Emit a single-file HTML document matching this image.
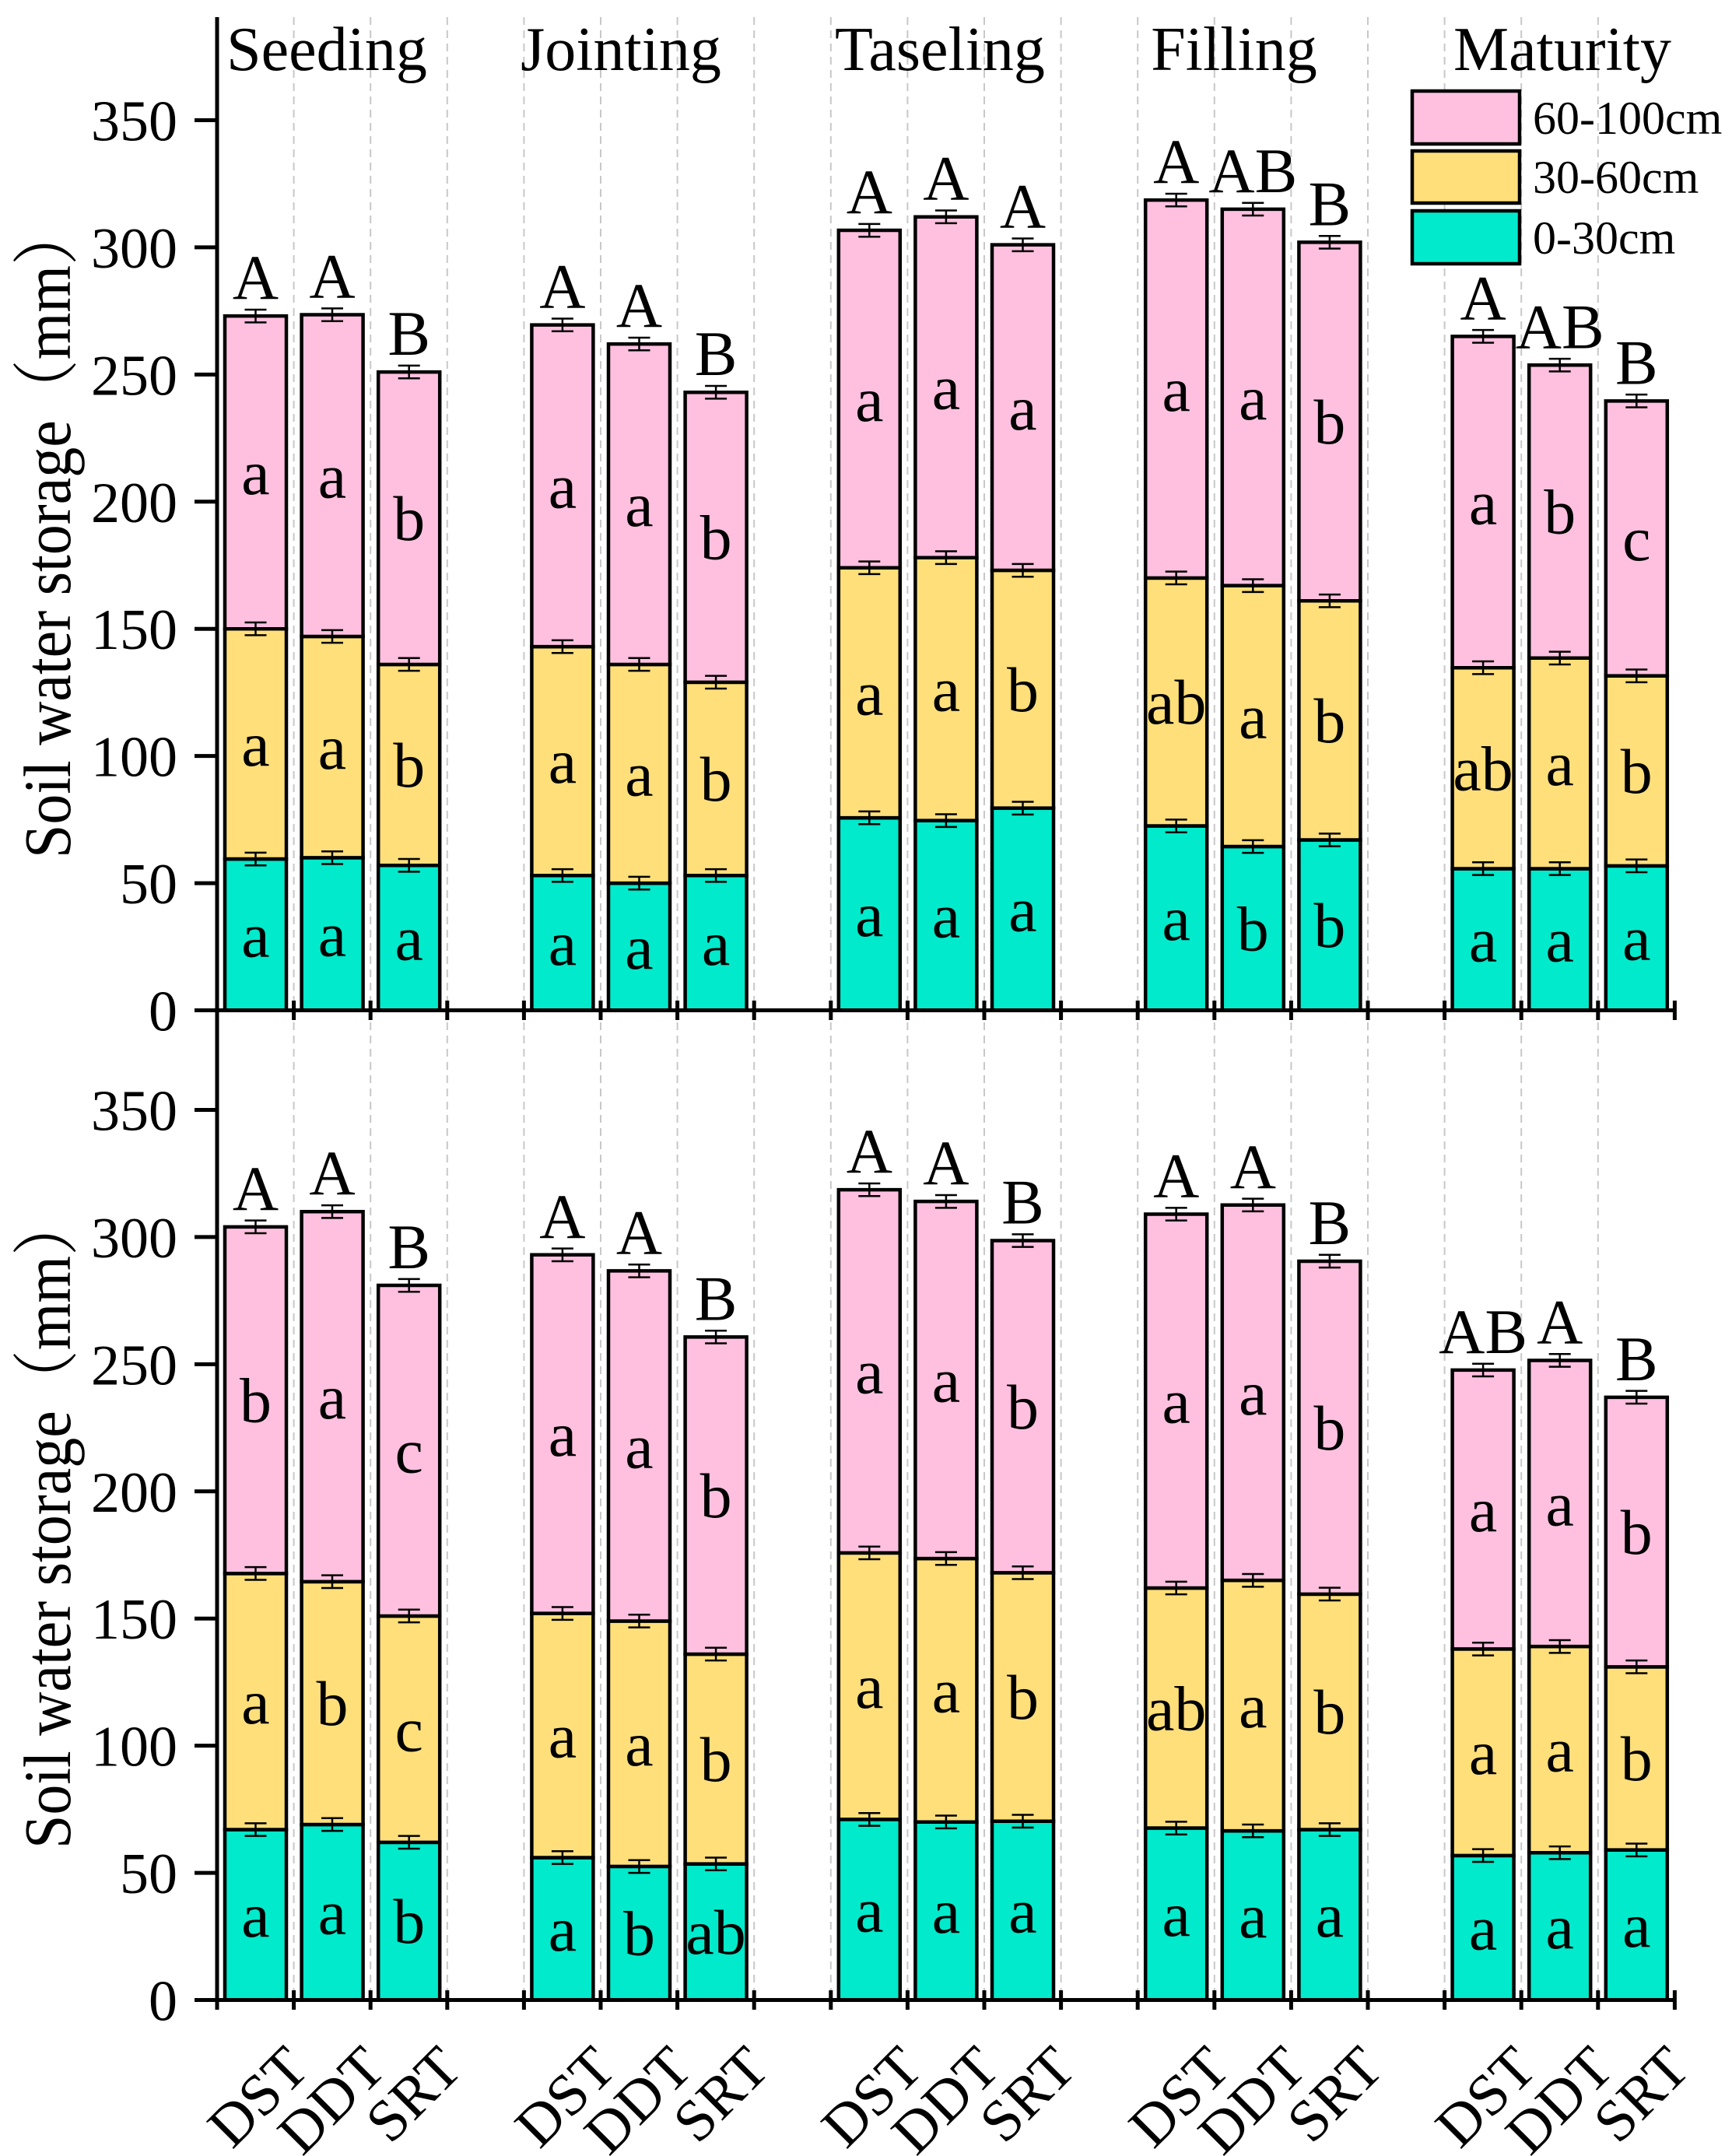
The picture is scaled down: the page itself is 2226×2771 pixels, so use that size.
<!DOCTYPE html>
<html><head><meta charset="utf-8"><style>
html,body{margin:0;padding:0;background:#fff}
svg{display:block}
text{font-family:"Liberation Serif","Noto Serif CJK SC",serif;fill:#000}
.t{fill:#00EACB}.y{fill:#FFDF7A}.p{fill:#FFC0E0}
rect{stroke:#000;stroke-width:4.5;vector-effect:non-scaling-stroke}
.eb{fill:none;stroke:#000;stroke-width:2.5;vector-effect:non-scaling-stroke}
.l{font-size:82px;text-anchor:middle}
</style></head><body>
<svg width="2226" height="2771" viewBox="0 0 2226 2771" xmlns="http://www.w3.org/2000/svg">
<defs><path id="e" class="eb" d="M-14 -2.5h28M-14 2.5h28M0 -2.5V2.5"/></defs>
<g stroke="#c8c8c8" stroke-width="2" stroke-dasharray="10 7">
<path d="M377.6 22V2571M476.2 22V2571M574.8 22V2571M673.4 22V2571M772 22V2571M870.6 22V2571M969.2 22V2571M1067.8 22V2571M1166.4 22V2571M1265 22V2571M1363.6 22V2571M1462.2 22V2571M1560.8 22V2571M1659.4 22V2571M1758 22V2571M1856.6 22V2571M1955.2 22V2571M2053.8 22V2571"/>
</g>

<g transform="translate(0,1298.5) scale(1,-3.2686)">
<rect class="t" x="289" y="0" width="79" height="59.5"/><rect class="y" x="289" y="59.5" width="79" height="90.5"/><rect class="p" x="289" y="150" width="79" height="123"/>
<rect class="t" x="387.6" y="0" width="79" height="60"/><rect class="y" x="387.6" y="60" width="79" height="87"/><rect class="p" x="387.6" y="147" width="79" height="126.5"/>
<rect class="t" x="486.2" y="0" width="79" height="57"/><rect class="y" x="486.2" y="57" width="79" height="79"/><rect class="p" x="486.2" y="136" width="79" height="115"/>
<rect class="t" x="683.4" y="0" width="79" height="53"/><rect class="y" x="683.4" y="53" width="79" height="90"/><rect class="p" x="683.4" y="143" width="79" height="126.5"/>
<rect class="t" x="782" y="0" width="79" height="50"/><rect class="y" x="782" y="50" width="79" height="86"/><rect class="p" x="782" y="136" width="79" height="126"/>
<rect class="t" x="880.6" y="0" width="79" height="53"/><rect class="y" x="880.6" y="53" width="79" height="76"/><rect class="p" x="880.6" y="129" width="79" height="114"/>
<rect class="t" x="1077.8" y="0" width="79" height="75.7"/><rect class="y" x="1077.8" y="75.7" width="79" height="98.3"/><rect class="p" x="1077.8" y="174" width="79" height="132.7"/>
<rect class="t" x="1176.4" y="0" width="79" height="74.6"/><rect class="y" x="1176.4" y="74.6" width="79" height="103.4"/><rect class="p" x="1176.4" y="178" width="79" height="134"/>
<rect class="t" x="1275" y="0" width="79" height="79.5"/><rect class="y" x="1275" y="79.5" width="79" height="93.5"/><rect class="p" x="1275" y="173" width="79" height="128"/>
<rect class="t" x="1472.2" y="0" width="79" height="72.5"/><rect class="y" x="1472.2" y="72.5" width="79" height="97.5"/><rect class="p" x="1472.2" y="170" width="79" height="148.6"/>
<rect class="t" x="1570.8" y="0" width="79" height="64.4"/><rect class="y" x="1570.8" y="64.4" width="79" height="102.6"/><rect class="p" x="1570.8" y="167" width="79" height="148"/>
<rect class="t" x="1669.4" y="0" width="79" height="67"/><rect class="y" x="1669.4" y="67" width="79" height="94"/><rect class="p" x="1669.4" y="161" width="79" height="141"/>
<rect class="t" x="1866.6" y="0" width="79" height="55.7"/><rect class="y" x="1866.6" y="55.7" width="79" height="79"/><rect class="p" x="1866.6" y="134.7" width="79" height="130.3"/>
<rect class="t" x="1965.2" y="0" width="79" height="55.7"/><rect class="y" x="1965.2" y="55.7" width="79" height="82.8"/><rect class="p" x="1965.2" y="138.5" width="79" height="115.2"/>
<rect class="t" x="2063.8" y="0" width="79" height="56.8"/><rect class="y" x="2063.8" y="56.8" width="79" height="74.7"/><rect class="p" x="2063.8" y="131.5" width="79" height="108.1"/>
<use href="#e" x="328.5" y="59.5"/><use href="#e" x="328.5" y="150"/><use href="#e" x="328.5" y="273"/>
<use href="#e" x="427" y="60"/><use href="#e" x="427" y="147"/><use href="#e" x="427" y="273.5"/>
<use href="#e" x="525.7" y="57"/><use href="#e" x="525.7" y="136"/><use href="#e" x="525.7" y="251"/>
<use href="#e" x="722.9" y="53"/><use href="#e" x="722.9" y="143"/><use href="#e" x="722.9" y="269.5"/>
<use href="#e" x="821.5" y="50"/><use href="#e" x="821.5" y="136"/><use href="#e" x="821.5" y="262"/>
<use href="#e" x="920.1" y="53"/><use href="#e" x="920.1" y="129"/><use href="#e" x="920.1" y="243"/>
<use href="#e" x="1117.3" y="75.7"/><use href="#e" x="1117.3" y="174"/><use href="#e" x="1117.3" y="306.7"/>
<use href="#e" x="1215.9" y="74.6"/><use href="#e" x="1215.9" y="178"/><use href="#e" x="1215.9" y="312"/>
<use href="#e" x="1314.5" y="79.5"/><use href="#e" x="1314.5" y="173"/><use href="#e" x="1314.5" y="301"/>
<use href="#e" x="1511.7" y="72.5"/><use href="#e" x="1511.7" y="170"/><use href="#e" x="1511.7" y="318.6"/>
<use href="#e" x="1610.3" y="64.4"/><use href="#e" x="1610.3" y="167"/><use href="#e" x="1610.3" y="315"/>
<use href="#e" x="1708.9" y="67"/><use href="#e" x="1708.9" y="161"/><use href="#e" x="1708.9" y="302"/>
<use href="#e" x="1906.1" y="55.7"/><use href="#e" x="1906.1" y="134.7"/><use href="#e" x="1906.1" y="265"/>
<use href="#e" x="2004.7" y="55.7"/><use href="#e" x="2004.7" y="138.5"/><use href="#e" x="2004.7" y="253.7"/>
<use href="#e" x="2103.3" y="56.8"/><use href="#e" x="2103.3" y="131.5"/><use href="#e" x="2103.3" y="239.6"/>
<g class="l">
<text transform="translate(328.5,29.75) scale(1,-0.30594)" y="28">a</text><text transform="translate(328.5,104.75) scale(1,-0.30594)" y="28">a</text><text transform="translate(328.5,211.5) scale(1,-0.30594)" y="28">a</text><text transform="translate(328.5,273) scale(1,-0.30594)" y="-22">A</text>
<text transform="translate(427,30) scale(1,-0.30594)" y="28">a</text><text transform="translate(427,103.5) scale(1,-0.30594)" y="28">a</text><text transform="translate(427,210.25) scale(1,-0.30594)" y="28">a</text><text transform="translate(427,273.5) scale(1,-0.30594)" y="-22">A</text>
<text transform="translate(525.7,28.5) scale(1,-0.30594)" y="28">a</text><text transform="translate(525.7,96.5) scale(1,-0.30594)" y="28">b</text><text transform="translate(525.7,193.5) scale(1,-0.30594)" y="28">b</text><text transform="translate(525.7,251) scale(1,-0.30594)" y="-22">B</text>
<text transform="translate(722.9,26.5) scale(1,-0.30594)" y="28">a</text><text transform="translate(722.9,98) scale(1,-0.30594)" y="28">a</text><text transform="translate(722.9,206.25) scale(1,-0.30594)" y="28">a</text><text transform="translate(722.9,269.5) scale(1,-0.30594)" y="-22">A</text>
<text transform="translate(821.5,25) scale(1,-0.30594)" y="28">a</text><text transform="translate(821.5,93) scale(1,-0.30594)" y="28">a</text><text transform="translate(821.5,199) scale(1,-0.30594)" y="28">a</text><text transform="translate(821.5,262) scale(1,-0.30594)" y="-22">A</text>
<text transform="translate(920.1,26.5) scale(1,-0.30594)" y="28">a</text><text transform="translate(920.1,91) scale(1,-0.30594)" y="28">b</text><text transform="translate(920.1,186) scale(1,-0.30594)" y="28">b</text><text transform="translate(920.1,243) scale(1,-0.30594)" y="-22">B</text>
<text transform="translate(1117.3,37.85) scale(1,-0.30594)" y="28">a</text><text transform="translate(1117.3,124.85) scale(1,-0.30594)" y="28">a</text><text transform="translate(1117.3,240.35) scale(1,-0.30594)" y="28">a</text><text transform="translate(1117.3,306.7) scale(1,-0.30594)" y="-22">A</text>
<text transform="translate(1215.9,37.3) scale(1,-0.30594)" y="28">a</text><text transform="translate(1215.9,126.3) scale(1,-0.30594)" y="28">a</text><text transform="translate(1215.9,245) scale(1,-0.30594)" y="28">a</text><text transform="translate(1215.9,312) scale(1,-0.30594)" y="-22">A</text>
<text transform="translate(1314.5,39.75) scale(1,-0.30594)" y="28">a</text><text transform="translate(1314.5,126.25) scale(1,-0.30594)" y="28">b</text><text transform="translate(1314.5,237) scale(1,-0.30594)" y="28">a</text><text transform="translate(1314.5,301) scale(1,-0.30594)" y="-22">A</text>
<text transform="translate(1511.7,36.25) scale(1,-0.30594)" y="28">a</text><text transform="translate(1511.7,121.25) scale(1,-0.30594)" y="28">ab</text><text transform="translate(1511.7,244.3) scale(1,-0.30594)" y="28">a</text><text transform="translate(1511.7,318.6) scale(1,-0.30594)" y="-22">A</text>
<text transform="translate(1610.3,32.2) scale(1,-0.30594)" y="28">b</text><text transform="translate(1610.3,115.7) scale(1,-0.30594)" y="28">a</text><text transform="translate(1610.3,241) scale(1,-0.30594)" y="28">a</text><text transform="translate(1610.3,315) scale(1,-0.30594)" y="-22">AB</text>
<text transform="translate(1708.9,33.5) scale(1,-0.30594)" y="28">b</text><text transform="translate(1708.9,114) scale(1,-0.30594)" y="28">b</text><text transform="translate(1708.9,231.5) scale(1,-0.30594)" y="28">b</text><text transform="translate(1708.9,302) scale(1,-0.30594)" y="-22">B</text>
<text transform="translate(1906.1,27.85) scale(1,-0.30594)" y="28">a</text><text transform="translate(1906.1,95.2) scale(1,-0.30594)" y="28">ab</text><text transform="translate(1906.1,199.85) scale(1,-0.30594)" y="28">a</text><text transform="translate(1906.1,265) scale(1,-0.30594)" y="-22">A</text>
<text transform="translate(2004.7,27.85) scale(1,-0.30594)" y="28">a</text><text transform="translate(2004.7,97.1) scale(1,-0.30594)" y="28">a</text><text transform="translate(2004.7,196.1) scale(1,-0.30594)" y="28">b</text><text transform="translate(2004.7,253.7) scale(1,-0.30594)" y="-22">AB</text>
<text transform="translate(2103.3,28.4) scale(1,-0.30594)" y="28">a</text><text transform="translate(2103.3,94.15) scale(1,-0.30594)" y="28">b</text><text transform="translate(2103.3,185.55) scale(1,-0.30594)" y="28">c</text><text transform="translate(2103.3,239.6) scale(1,-0.30594)" y="-22">B</text>
</g>
</g>

<g transform="translate(0,2570.5) scale(1,-3.2686)">
<rect class="t" x="289" y="0" width="79" height="67"/><rect class="y" x="289" y="67" width="79" height="100.7"/><rect class="p" x="289" y="167.7" width="79" height="136.3"/>
<rect class="t" x="387.6" y="0" width="79" height="69"/><rect class="y" x="387.6" y="69" width="79" height="95.5"/><rect class="p" x="387.6" y="164.5" width="79" height="145.5"/>
<rect class="t" x="486.2" y="0" width="79" height="62"/><rect class="y" x="486.2" y="62" width="79" height="89"/><rect class="p" x="486.2" y="151" width="79" height="130"/>
<rect class="t" x="683.4" y="0" width="79" height="56"/><rect class="y" x="683.4" y="56" width="79" height="96"/><rect class="p" x="683.4" y="152" width="79" height="141"/>
<rect class="t" x="782" y="0" width="79" height="52.5"/><rect class="y" x="782" y="52.5" width="79" height="96.5"/><rect class="p" x="782" y="149" width="79" height="137.7"/>
<rect class="t" x="880.6" y="0" width="79" height="53.5"/><rect class="y" x="880.6" y="53.5" width="79" height="82.5"/><rect class="p" x="880.6" y="136" width="79" height="124.7"/>
<rect class="t" x="1077.8" y="0" width="79" height="71"/><rect class="y" x="1077.8" y="71" width="79" height="104.8"/><rect class="p" x="1077.8" y="175.8" width="79" height="142.8"/>
<rect class="t" x="1176.4" y="0" width="79" height="70"/><rect class="y" x="1176.4" y="70" width="79" height="103.6"/><rect class="p" x="1176.4" y="173.6" width="79" height="140.4"/>
<rect class="t" x="1275" y="0" width="79" height="70.3"/><rect class="y" x="1275" y="70.3" width="79" height="97.7"/><rect class="p" x="1275" y="168" width="79" height="130.6"/>
<rect class="t" x="1472.2" y="0" width="79" height="67.6"/><rect class="y" x="1472.2" y="67.6" width="79" height="94.4"/><rect class="p" x="1472.2" y="162" width="79" height="147"/>
<rect class="t" x="1570.8" y="0" width="79" height="66.5"/><rect class="y" x="1570.8" y="66.5" width="79" height="98.5"/><rect class="p" x="1570.8" y="165" width="79" height="147.6"/>
<rect class="t" x="1669.4" y="0" width="79" height="67"/><rect class="y" x="1669.4" y="67" width="79" height="92.6"/><rect class="p" x="1669.4" y="159.6" width="79" height="130.9"/>
<rect class="t" x="1866.6" y="0" width="79" height="56.8"/><rect class="y" x="1866.6" y="56.8" width="79" height="81.2"/><rect class="p" x="1866.6" y="138" width="79" height="109.7"/>
<rect class="t" x="1965.2" y="0" width="79" height="57.9"/><rect class="y" x="1965.2" y="57.9" width="79" height="81.1"/><rect class="p" x="1965.2" y="139" width="79" height="112.5"/>
<rect class="t" x="2063.8" y="0" width="79" height="59"/><rect class="y" x="2063.8" y="59" width="79" height="72"/><rect class="p" x="2063.8" y="131" width="79" height="106"/>
<use href="#e" x="328.5" y="67"/><use href="#e" x="328.5" y="167.7"/><use href="#e" x="328.5" y="304"/>
<use href="#e" x="427" y="69"/><use href="#e" x="427" y="164.5"/><use href="#e" x="427" y="310"/>
<use href="#e" x="525.7" y="62"/><use href="#e" x="525.7" y="151"/><use href="#e" x="525.7" y="281"/>
<use href="#e" x="722.9" y="56"/><use href="#e" x="722.9" y="152"/><use href="#e" x="722.9" y="293"/>
<use href="#e" x="821.5" y="52.5"/><use href="#e" x="821.5" y="149"/><use href="#e" x="821.5" y="286.7"/>
<use href="#e" x="920.1" y="53.5"/><use href="#e" x="920.1" y="136"/><use href="#e" x="920.1" y="260.7"/>
<use href="#e" x="1117.3" y="71"/><use href="#e" x="1117.3" y="175.8"/><use href="#e" x="1117.3" y="318.6"/>
<use href="#e" x="1215.9" y="70"/><use href="#e" x="1215.9" y="173.6"/><use href="#e" x="1215.9" y="314"/>
<use href="#e" x="1314.5" y="70.3"/><use href="#e" x="1314.5" y="168"/><use href="#e" x="1314.5" y="298.6"/>
<use href="#e" x="1511.7" y="67.6"/><use href="#e" x="1511.7" y="162"/><use href="#e" x="1511.7" y="309"/>
<use href="#e" x="1610.3" y="66.5"/><use href="#e" x="1610.3" y="165"/><use href="#e" x="1610.3" y="312.6"/>
<use href="#e" x="1708.9" y="67"/><use href="#e" x="1708.9" y="159.6"/><use href="#e" x="1708.9" y="290.5"/>
<use href="#e" x="1906.1" y="56.8"/><use href="#e" x="1906.1" y="138"/><use href="#e" x="1906.1" y="247.7"/>
<use href="#e" x="2004.7" y="57.9"/><use href="#e" x="2004.7" y="139"/><use href="#e" x="2004.7" y="251.5"/>
<use href="#e" x="2103.3" y="59"/><use href="#e" x="2103.3" y="131"/><use href="#e" x="2103.3" y="237"/>
<g class="l">
<text transform="translate(328.5,33.5) scale(1,-0.30594)" y="28">a</text><text transform="translate(328.5,117.35) scale(1,-0.30594)" y="28">a</text><text transform="translate(328.5,235.85) scale(1,-0.30594)" y="28">b</text><text transform="translate(328.5,304) scale(1,-0.30594)" y="-22">A</text>
<text transform="translate(427,34.5) scale(1,-0.30594)" y="28">a</text><text transform="translate(427,116.75) scale(1,-0.30594)" y="28">b</text><text transform="translate(427,237.25) scale(1,-0.30594)" y="28">a</text><text transform="translate(427,310) scale(1,-0.30594)" y="-22">A</text>
<text transform="translate(525.7,31) scale(1,-0.30594)" y="28">b</text><text transform="translate(525.7,106.5) scale(1,-0.30594)" y="28">c</text><text transform="translate(525.7,216) scale(1,-0.30594)" y="28">c</text><text transform="translate(525.7,281) scale(1,-0.30594)" y="-22">B</text>
<text transform="translate(722.9,28) scale(1,-0.30594)" y="28">a</text><text transform="translate(722.9,104) scale(1,-0.30594)" y="28">a</text><text transform="translate(722.9,222.5) scale(1,-0.30594)" y="28">a</text><text transform="translate(722.9,293) scale(1,-0.30594)" y="-22">A</text>
<text transform="translate(821.5,26.25) scale(1,-0.30594)" y="28">b</text><text transform="translate(821.5,100.75) scale(1,-0.30594)" y="28">a</text><text transform="translate(821.5,217.85) scale(1,-0.30594)" y="28">a</text><text transform="translate(821.5,286.7) scale(1,-0.30594)" y="-22">A</text>
<text transform="translate(920.1,26.75) scale(1,-0.30594)" y="28">ab</text><text transform="translate(920.1,94.75) scale(1,-0.30594)" y="28">b</text><text transform="translate(920.1,198.35) scale(1,-0.30594)" y="28">b</text><text transform="translate(920.1,260.7) scale(1,-0.30594)" y="-22">B</text>
<text transform="translate(1117.3,35.5) scale(1,-0.30594)" y="28">a</text><text transform="translate(1117.3,123.4) scale(1,-0.30594)" y="28">a</text><text transform="translate(1117.3,247.2) scale(1,-0.30594)" y="28">a</text><text transform="translate(1117.3,318.6) scale(1,-0.30594)" y="-22">A</text>
<text transform="translate(1215.9,35) scale(1,-0.30594)" y="28">a</text><text transform="translate(1215.9,121.8) scale(1,-0.30594)" y="28">a</text><text transform="translate(1215.9,243.8) scale(1,-0.30594)" y="28">a</text><text transform="translate(1215.9,314) scale(1,-0.30594)" y="-22">A</text>
<text transform="translate(1314.5,35.15) scale(1,-0.30594)" y="28">a</text><text transform="translate(1314.5,119.15) scale(1,-0.30594)" y="28">b</text><text transform="translate(1314.5,233.3) scale(1,-0.30594)" y="28">b</text><text transform="translate(1314.5,298.6) scale(1,-0.30594)" y="-22">B</text>
<text transform="translate(1511.7,33.8) scale(1,-0.30594)" y="28">a</text><text transform="translate(1511.7,114.8) scale(1,-0.30594)" y="28">ab</text><text transform="translate(1511.7,235.5) scale(1,-0.30594)" y="28">a</text><text transform="translate(1511.7,309) scale(1,-0.30594)" y="-22">A</text>
<text transform="translate(1610.3,33.25) scale(1,-0.30594)" y="28">a</text><text transform="translate(1610.3,115.75) scale(1,-0.30594)" y="28">a</text><text transform="translate(1610.3,238.8) scale(1,-0.30594)" y="28">a</text><text transform="translate(1610.3,312.6) scale(1,-0.30594)" y="-22">A</text>
<text transform="translate(1708.9,33.5) scale(1,-0.30594)" y="28">a</text><text transform="translate(1708.9,113.3) scale(1,-0.30594)" y="28">b</text><text transform="translate(1708.9,225.05) scale(1,-0.30594)" y="28">b</text><text transform="translate(1708.9,290.5) scale(1,-0.30594)" y="-22">B</text>
<text transform="translate(1906.1,28.4) scale(1,-0.30594)" y="28">a</text><text transform="translate(1906.1,97.4) scale(1,-0.30594)" y="28">a</text><text transform="translate(1906.1,192.85) scale(1,-0.30594)" y="28">a</text><text transform="translate(1906.1,247.7) scale(1,-0.30594)" y="-22">AB</text>
<text transform="translate(2004.7,28.95) scale(1,-0.30594)" y="28">a</text><text transform="translate(2004.7,98.45) scale(1,-0.30594)" y="28">a</text><text transform="translate(2004.7,195.25) scale(1,-0.30594)" y="28">a</text><text transform="translate(2004.7,251.5) scale(1,-0.30594)" y="-22">A</text>
<text transform="translate(2103.3,29.5) scale(1,-0.30594)" y="28">a</text><text transform="translate(2103.3,95) scale(1,-0.30594)" y="28">b</text><text transform="translate(2103.3,184) scale(1,-0.30594)" y="28">b</text><text transform="translate(2103.3,237) scale(1,-0.30594)" y="-22">B</text>
</g>
</g>

<g stroke="#000" stroke-width="5" fill="none">
<path d="M279 22V2574"/>
<path d="M277 1298.5H2154M277 2570.5H2154"/>
<path d="M250 1298.5H279M250 1135.1H279M250 971.6H279M250 808.2H279M250 644.8H279M250 481.4H279M250 317.9H279M250 154.5H279"/>
<path d="M250 2570.5H279M250 2407.1H279M250 2243.6H279M250 2080.2H279M250 1916.8H279M250 1753.4H279M250 1589.9H279M250 1426.5H279"/>
<path d="M279 1286V1311M377.6 1286V1311M476.2 1286V1311M574.8 1286V1311M673.4 1286V1311M772 1286V1311M870.6 1286V1311M969.2 1286V1311M1067.8 1286V1311M1166.4 1286V1311M1265 1286V1311M1363.6 1286V1311M1462.2 1286V1311M1560.8 1286V1311M1659.4 1286V1311M1758 1286V1311M1856.6 1286V1311M1955.2 1286V1311M2053.8 1286V1311M2152.4 1286V1311"/>
<path d="M279 2558V2583M377.6 2558V2583M476.2 2558V2583M574.8 2558V2583M673.4 2558V2583M772 2558V2583M870.6 2558V2583M969.2 2558V2583M1067.8 2558V2583M1166.4 2558V2583M1265 2558V2583M1363.6 2558V2583M1462.2 2558V2583M1560.8 2558V2583M1659.4 2558V2583M1758 2558V2583M1856.6 2558V2583M1955.2 2558V2583M2053.8 2558V2583M2152.4 2558V2583"/>
</g>

<g font-size="74" text-anchor="end">
<text x="228" y="1324.5">0</text><text x="228" y="1161.1">50</text><text x="228" y="997.6">100</text><text x="228" y="834.2">150</text><text x="228" y="670.8">200</text><text x="228" y="507.4">250</text><text x="228" y="343.9">300</text><text x="228" y="180.5">350</text>
<text x="228" y="2596.5">0</text><text x="228" y="2433.1">50</text><text x="228" y="2269.6">100</text><text x="228" y="2106.2">150</text><text x="228" y="1942.8">200</text><text x="228" y="1779.4">250</text><text x="228" y="1615.9">300</text><text x="228" y="1452.5">350</text>
</g>

<text transform="translate(90,683) rotate(-90)" font-size="86" text-anchor="middle" textLength="840" lengthAdjust="spacingAndGlyphs">Soil water storage（mm）</text>
<text transform="translate(90,1956) rotate(-90)" font-size="86" text-anchor="middle" textLength="840" lengthAdjust="spacingAndGlyphs">Soil water storage（mm）</text>

<g font-size="80" text-anchor="middle">
<text x="420" y="90">Seeding</text>
<text x="798" y="90">Jointing</text>
<text x="1208" y="90">Taseling</text>
<text x="1586" y="90">Filling</text>
<text x="2008" y="90">Maturity</text>
</g>

<g stroke="#000" stroke-width="4">
<rect class="p" x="1815" y="117" width="138" height="68"/>
<rect class="y" x="1815" y="194" width="138" height="67"/>
<rect class="t" x="1815" y="271" width="138" height="68"/>
</g>
<g font-size="60">
<text x="1970" y="172">60-100cm</text>
<text x="1970" y="248">30-60cm</text>
<text x="1970" y="326">0-30cm</text>
</g>

<g font-size="76" text-anchor="end">
<text transform="translate(400,2662) rotate(-45)">DST</text>
<text transform="translate(499,2662) rotate(-45)">DDT</text>
<text transform="translate(597,2662) rotate(-45)">SRT</text>
<text transform="translate(795,2662) rotate(-45)">DST</text>
<text transform="translate(893,2662) rotate(-45)">DDT</text>
<text transform="translate(992,2662) rotate(-45)">SRT</text>
<text transform="translate(1189,2662) rotate(-45)">DST</text>
<text transform="translate(1288,2662) rotate(-45)">DDT</text>
<text transform="translate(1386,2662) rotate(-45)">SRT</text>
<text transform="translate(1584,2662) rotate(-45)">DST</text>
<text transform="translate(1682,2662) rotate(-45)">DDT</text>
<text transform="translate(1781,2662) rotate(-45)">SRT</text>
<text transform="translate(1978,2662) rotate(-45)">DST</text>
<text transform="translate(2077,2662) rotate(-45)">DDT</text>
<text transform="translate(2175,2662) rotate(-45)">SRT</text>
</g>
</svg>
</body></html>
